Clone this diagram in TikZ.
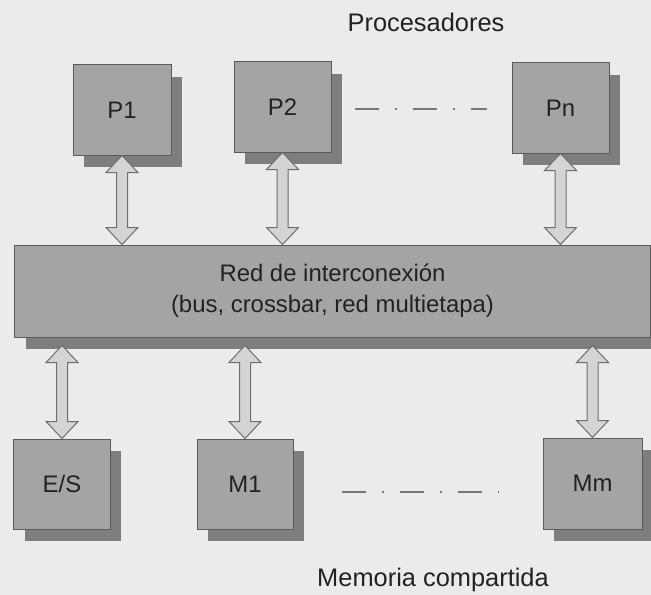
\documentclass[tikz,border=0pt]{standalone}
\usepackage{fontspec}
\setmainfont{Liberation Sans}
\usetikzlibrary{calc,shadows}

\definecolor{bggray}{HTML}{EBEBEB}
\definecolor{boxgray}{HTML}{A4A4A4}
\definecolor{shadowgray}{HTML}{7E7E7E}
\definecolor{edgegray}{HTML}{5A5A5A}
\definecolor{arrowfill}{HTML}{D4D4D4}
\definecolor{arrowedge}{HTML}{6E6E6E}
\definecolor{dashgray}{HTML}{777777}
\definecolor{textdark}{HTML}{222222}

% double block arrow, vertical, x taken from the first point
\newcommand{\biarrow}[2]{%
  \filldraw[blockarrow] let \p1=(#1), \p2=(#2) in
    (\x1,\y1) -- (\x1+16bp,\y1-17bp) -- (\x1+5.5bp,\y1-17bp)
    -- (\x1+5.5bp,\y2+17bp) -- (\x1+16bp,\y2+17bp) -- (\x1,\y2)
    -- (\x1-16bp,\y2+17bp) -- (\x1-5.5bp,\y2+17bp)
    -- (\x1-5.5bp,\y1-17bp) -- (\x1-16bp,\y1-17bp) -- cycle;}

\tikzset{
  unit/.style={draw=edgegray, line width=1bp, fill=boxgray,
    minimum width=97bp, minimum height=90bp, inner sep=0pt,
    font=\fontsize{24}{29}\selectfont, text=textdark,
    drop shadow={shadow xshift=11bp, shadow yshift=-12bp,
      fill=shadowgray, opacity=1}},
  blockarrow/.style={draw=arrowedge, line width=1bp, fill=arrowfill,
    line join=miter},
  dotdash/.style={draw=dashgray, line width=1.2bp,
    dash pattern=on 24bp off 16bp on 1.5bp off 16.5bp},
  caption/.style={font=\fontsize{25.5}{30}\selectfont, text=textdark}
}

\begin{document}
\begin{tikzpicture}[x=1bp, y=-1bp]
  \useasboundingbox (0,0) rectangle (651,595);
  \fill[bggray] (0,0) rectangle (651,595);

  % processors
  \node[caption] (proc) at (426,22) {Procesadores};
  \node[unit, minimum width=98bp] (p1) at (122,110) {P1};
  \node[unit] (p2) at (282.5,107) {P2};
  \node[unit] (pn) at (560.5,108) {Pn};
  \coordinate (pdashA) at (355,109);
  \coordinate (pdashB) at (487,109);
  \draw[dotdash] (pdashA) -- (pdashB);

  % interconnection network
  \node[unit, minimum width=635bp, minimum height=92bp,
    align=center, font=\fontsize{24}{31}\selectfont] (net) at (332.5,291)
    {Red de interconexión\\(bus, crossbar, red multietapa)};

  % shared memory and I/O
  \node[unit, minimum width=96bp] (es) at (62,484) {E/S};
  \node[unit, minimum width=96bp] (m1) at (245,484) {M1};
  \node[unit, minimum width=99bp, minimum height=91bp] (mm) at (592.5,483.5) {Mm};
  \coordinate (mdashA) at (342,492);
  \coordinate (mdashB) at (499,492);
  \draw[dotdash] (mdashA) -- (mdashB);
  \node[caption] (mem) at (433,580) {Memoria compartida};

  % links
  \biarrow{p1.south}{net.north}
  \biarrow{p2.south}{net.north}
  \biarrow{pn.south}{net.north}
  \biarrow{$(net.south -| es.north)+(0,8)$}{es.north}
  \biarrow{$(net.south -| m1.north)+(0,8)$}{m1.north}
  \biarrow{$(net.south -| mm.north)+(0,8)$}{mm.north}
\end{tikzpicture}
\end{document}
